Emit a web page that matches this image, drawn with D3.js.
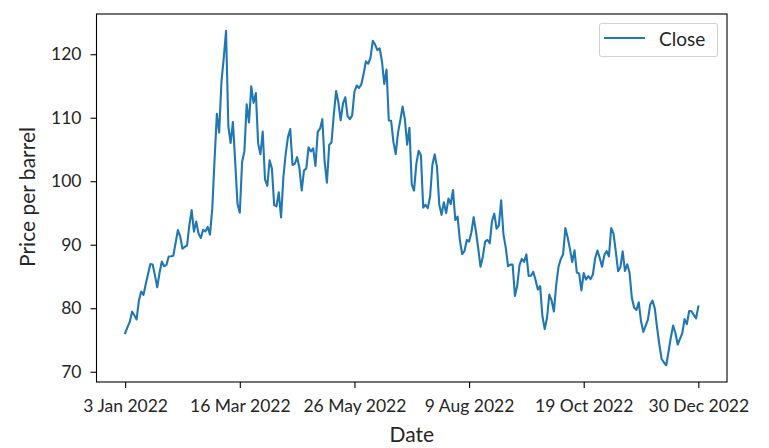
<!DOCTYPE html>
<html><head><meta charset="utf-8">
<script src="https://cdn.jsdelivr.net/npm/d3@7"></script>
<style>
html,body{margin:0;padding:0;background:#fff;}
svg text{font-family:Lato,"Open Sans",sans-serif;fill:#262626;}
</style></head>
<body>
<svg id="chart" width="769" height="448"></svg>
<script>
// WTI close prices 2022, trading-day index 0..250
const jan = [76.08,76.99,77.85,79.46,78.90,78.23,81.22,82.64,82.12,83.82,85.43,86.96,86.90,85.14,83.31,85.60,87.35,86.61,86.82,88.15];
const feb = [88.20,88.26,90.27,92.31,91.32,89.36,89.66,89.88,93.10,95.46,92.07,93.66,91.76,91.07,92.35,92.10,92.81,91.59,95.72];
const mar = [103.41,110.60,107.67,115.68,119.40,123.70,108.70,106.02,109.33,103.01,96.44,95.04,102.98,104.70,112.12,109.27,114.93,112.34,113.90,105.96,104.24,107.82,100.28];
const apr = [99.27,103.28,102.03,96.23,96.03,98.26,94.29,100.60,104.25,106.95,108.21,102.56,102.75,103.79,102.07,98.54,101.70,102.02,105.36,104.69];
const may = [105.17,102.41,107.81,108.26,109.77,103.09,99.76,105.71,106.13,110.49,114.20,112.40,109.59,112.21,113.23,110.29,109.77,110.33,114.09,115.07,114.67];
const jun = [115.26,116.87,118.87,118.50,119.41,122.11,121.51,120.67,120.93,118.93,115.31,117.59,109.56,109.52,106.19,104.27,107.62,109.57,111.76,109.78,105.76];
const jul = [108.43,99.50,98.53,102.73,104.79,104.09,95.84,96.30,95.78,97.59,102.60,104.22,102.26,96.35,94.70,96.70,94.98,97.26,96.42,98.62];
const aug = [93.89,94.42,90.66,88.54,89.01,90.76,90.50,91.93,94.34,92.09,89.41,86.53,88.11,90.50,90.77,90.23,93.74,94.89,92.52,93.06,97.01,91.64,89.55];
const sep = [86.61,86.87,86.88,81.94,83.54,86.79,87.78,87.31,88.48,85.10,85.11,85.73,84.45,82.94,83.49,78.74,76.71,78.50,82.15,81.23,79.49];
const oct = [83.63,86.52,87.76,88.45,92.64,91.13,89.35,87.27,89.11,85.61,85.46,82.82,85.55,84.51,85.05,84.58,85.32,87.91,89.08,87.90,86.53];
const nov = [88.37,89.00,88.17,92.61,91.79,88.91,85.83,86.47,88.96,85.87,86.92,85.59,81.64,80.08,79.73,80.95,77.94,76.28,77.24,78.20,80.55];
const dec = [81.22,79.98,76.93,74.25,72.01,71.46,71.02,73.17,75.39,77.28,76.11,74.29,75.19,76.09,78.29,77.49,79.56,79.53,78.96,78.40,80.26];
const closeValues = [].concat(jan,feb,mar,apr,may,jun,jul,aug,sep,oct,nov,dec);
const xTickIndex = [0,50,100,150,200,250];
const xTickLabels = ["3 Jan 2022","16 Mar 2022","26 May 2022","9 Aug 2022","19 Oct 2022","30 Dec 2022"];
const yTicks = [70,80,90,100,110,120];
const seriesName = "Close";

const svg = d3.select("#chart");
const L = 96.5, R = 727, T = 14, B = 382;
const n = closeValues.length;
const pad = (n-1)*0.05;
const x = d3.scaleLinear().domain([-pad, n-1+pad]).range([L, R]);
const ymin = d3.min(closeValues), ymax = d3.max(closeValues), yp = (ymax-ymin)*0.05;
const y = d3.scaleLinear().domain([ymin-yp, ymax+yp]).range([B, T]);

const line = d3.line().x((d,i)=>x(i)).y(d=>y(d));
svg.append("path").datum(closeValues).attr("d", line)
  .attr("fill","none").attr("stroke","#1f77b4").attr("stroke-width",2.1)
  .attr("stroke-linejoin","round").attr("stroke-linecap","square");

const xAxis = d3.axisBottom(x).tickValues(xTickIndex).tickFormat((d,i)=>xTickLabels[i]).tickSize(6).tickSizeOuter(0);
const gx = svg.append("g").attr("transform",`translate(0,${B})`).call(xAxis);
gx.select(".domain").remove();
gx.selectAll("line").attr("stroke","#000").attr("stroke-width",1.1);
gx.selectAll("text").attr("font-size",17.5).attr("y",16).attr("dy","0.78em").style("fill","#262626");

const yAxis = d3.axisLeft(y).tickValues(yTicks).tickSize(6).tickSizeOuter(0);
const gy = svg.append("g").attr("transform",`translate(${L},0)`).call(yAxis);
gy.select(".domain").remove();
gy.selectAll("line").attr("stroke","#000").attr("stroke-width",1.1);
gy.selectAll("text").attr("font-size",17.5).attr("x",-15).style("fill","#262626");

svg.append("rect").attr("x",L).attr("y",T).attr("width",R-L).attr("height",B-T)
  .attr("fill","none").attr("stroke","#000").attr("stroke-width",1.1);

svg.append("text").attr("x",(L+R)/2).attr("y",442).attr("text-anchor","middle")
  .attr("font-size",21).text("Date");
svg.append("text").attr("transform","translate(35,197) rotate(-90)").attr("text-anchor","middle")
  .attr("font-size",21).text("Price per barrel");

const lg = svg.append("g");
lg.append("rect").attr("x",599.5).attr("y",23.5).attr("width",118).attr("height",33).attr("rx",2)
  .attr("fill","#fff").attr("stroke","#d0d0d0").attr("stroke-width",1);
lg.append("line").attr("x1",604).attr("x2",645).attr("y1",38).attr("y2",38)
  .attr("stroke","#1f77b4").attr("stroke-width",2.1);
lg.append("text").attr("x",659).attr("y",46).attr("font-size",19).text(seriesName);
</script>
</body></html>
